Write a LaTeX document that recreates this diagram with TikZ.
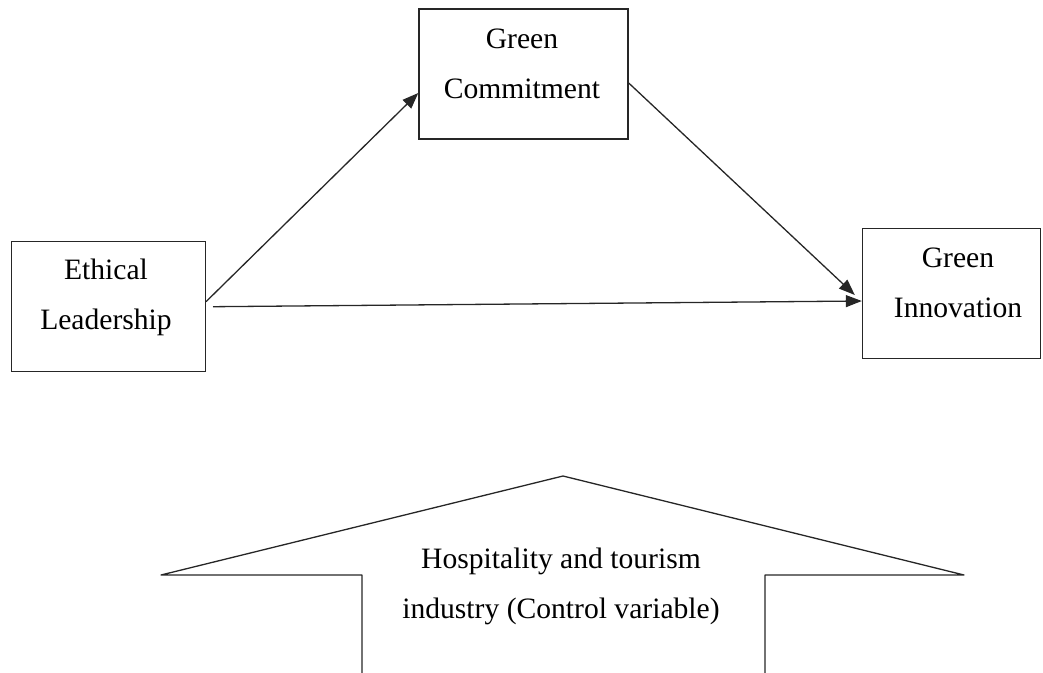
\documentclass[tikz,border=0pt]{standalone}
\usepackage{fontspec}
\setmainfont{Liberation Serif}
\usetikzlibrary{arrows.meta}
\begin{document}
\begin{tikzpicture}[x=1pt,y=-1pt,
  boxnode/.style={draw=black!85,line width=1.4pt,rectangle,inner sep=0pt},
  lbl/.style={align=center,inner sep=0pt,font=\fontsize{29.6}{50}\selectfont},
  conn/.style={draw=black!85,line width=1.3pt,-{Triangle[length=16pt,width=12pt]}},
  blockline/.style={draw=black!85,line width=1.3pt,line join=round}]
\useasboundingbox (0,0) rectangle (1043,672);
% boxes
\node[boxnode,minimum width=209pt,minimum height=130pt] (gc) at (523.5,74) {};
\node[boxnode,minimum width=194pt,minimum height=130pt] (el) at (108.3,306.7) {};
\node[boxnode,minimum width=178pt,minimum height=130pt] (gi) at (951.5,293.5) {};
% labels
\node[lbl] (gct) at (522,64) {Green\\Commitment};
\node[lbl] (elt) at (106,297) {Ethical\\Leadership};
\node[lbl] (git) at (958,283) {Green\\Innovation};
% connectors
\draw[conn] ([yshift=5pt]el.east) -- ([yshift=-19pt]gc.west);
\draw[conn] ([yshift=-9pt]gc.east) -- ([xshift=-7pt,yshift=-1.5pt]gi.west);
\draw[conn] ([xshift=7pt]el.east) -- ([yshift=-7.5pt]gi.west);
% big block arrow
\coordinate (ll) at (362,674);
\coordinate (ls) at (362,575);
\coordinate (lc) at (161,575);
\coordinate (ap) at (563,476);
\coordinate (rc) at (964,575);
\coordinate (rs) at (765,575);
\coordinate (rl) at (765,674);
\draw[blockline] (ll) -- (ls) -- (lc) -- (ap) -- (rc) -- (rs) -- (rl);
\node[lbl] (ht) at (561,586) {Hospitality and tourism\\industry (Control variable)};
\end{tikzpicture}
\end{document}
